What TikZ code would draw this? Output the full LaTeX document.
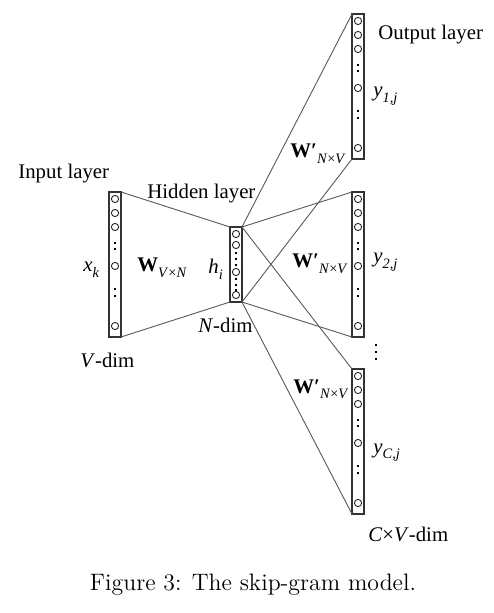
\documentclass[tikz,border=0pt]{standalone}
\usepackage{fontspec}
\newfontfamily\tnr{Liberation Serif}
\tikzset{
 colbox/.style={draw=black!80, line width=0.75pt, minimum width=6pt, inner sep=0pt, outer sep=0pt, rectangle},
 cir/.style={draw=black!85, line width=0.45pt},
 conn/.style={draw=black!65, line width=0.45pt},
 lbl/.style={inner sep=0pt, anchor=base west, font=\tnr\fontsize{10.4}{12}\selectfont},
}
\newcommand\lsub[1]{\raisebox{-0.55ex}{\fontsize{7.2}{8}\selectfont #1}}
\newcommand\nncol[3]{%
  \node[colbox, minimum height=72.5pt, anchor=north west] (#1) at (#2,#3) {};
  \foreach \o in {7,21,35,74,134} {\draw[cir] ({#2+6},{#3+\o}) circle[radius=1.8pt];}
  \foreach \o in {51,57,97,104} {\fill ({#2+6},{#3+\o}) +(-1.4,-1.4) rectangle +(1.4,1.4);}
}
\begin{document}
\begin{tikzpicture}[x=0.5pt,y=-0.5pt]
\fill[white] (0,0) rectangle (493,613);
\useasboundingbox (0,0) rectangle (493,613);
% columns
\nncol{in}{109}{192}
\nncol{o1}{352}{14}
\nncol{o2}{352}{192}
\nncol{o3}{352}{369}
\node[colbox, minimum height=37.5pt, anchor=north west] (hid) at (230,227) {};
\foreach \o in {7,18,45,68} {\draw[cir] (236,{227+\o}) circle[radius=1.8pt];}
\foreach \o in {26,32,38,52,58,63} {\fill (236,{227+\o}) +(-1.3,-1.3) rectangle +(1.3,1.3);}
% connectors
\draw[conn] (in.north east) -- (hid.north west);
\draw[conn] (in.south east) -- (hid.south west);
\draw[conn] (hid.north east) -- (o1.north west);
\draw[conn] (hid.north east) -- (o2.north west);
\draw[conn] (hid.north east) -- (o3.north west);
\draw[conn] (hid.south east) -- (o1.south west);
\draw[conn] (hid.south east) -- (o2.south west);
\draw[conn] (hid.south east) -- (o3.south west);
% vertical dots between outputs
\foreach \o in {345,352,359} {\fill (376,\o) +(-1.4,-1.4) rectangle +(1.4,1.4);}
% labels
\node[lbl] (tin) at (18,179) {Input layer};
\node[lbl] (thid) at (147,199) {Hidden layer};
\node[lbl] (tout) at (378,40) {Output layer};
\node[lbl] (xk) at (83,272) {\textit{x}\lsub{\textit{k}}};
\node[lbl] (w1) at (137,272) {\textbf{W}\lsub{\textit{V}×\textit{N}}};
\node[lbl] (hi) at (208,274) {\textit{h}\lsub{\textit{i}}};
\node[lbl] (nd) at (198,333) {\textit{N}-dim};
\node[lbl] (vd) at (80,367) {\textit{V}-dim};
\node[lbl] (w2) at (290,158) {\textbf{W′}\lsub{\textit{N}×\textit{V}}};
\node[lbl] (w3) at (292,268) {\textbf{W′}\lsub{\textit{N}×\textit{V}}};
\node[lbl] (w4) at (293,393) {\textbf{W′}\lsub{\textit{N}×\textit{V}}};
\node[lbl] (y1) at (373,97) {\textit{y}\lsub{\textit{1,j}}};
\node[lbl] (y2) at (373,263) {\textit{y}\lsub{\textit{2,j}}};
\node[lbl] (yc) at (373,453) {\textit{y}\lsub{\textit{C,j}}};
\node[lbl] (cv) at (368,541) {\textit{C}×\textit{V}-dim};
\node[anchor=base, inner sep=0pt, font=\fontsize{11.9}{14}\selectfont] (cap) at (253,590) {Figure 3: The skip-gram model.};
\end{tikzpicture}
\end{document}
